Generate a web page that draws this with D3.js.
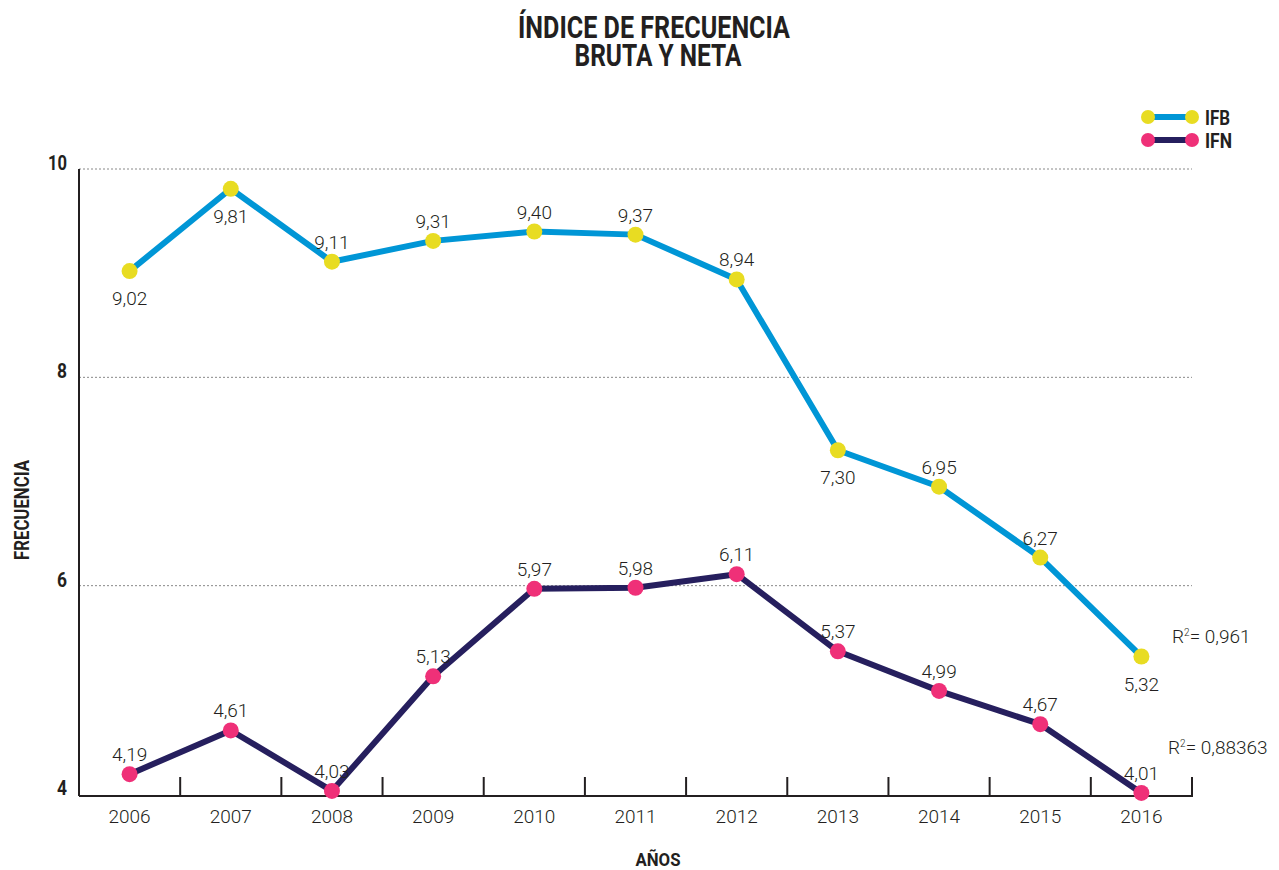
<!DOCTYPE html>
<html>
<head>
<meta charset="utf-8">
<script src="https://cdn.jsdelivr.net/npm/d3@7"></script>
<style>
  body { margin: 0; background: #fff; }
  svg text { font-family: Roboto, "Liberation Sans", sans-serif; font-weight: 300; }
  svg text.bold { font-weight: bold; }
</style>
</head>
<body>
<svg id="chart" width="1279" height="870"></svg>
<script>
const years = ["2006", "2007", "2008", "2009", "2010", "2011", "2012", "2013", "2014", "2015", "2016"];
const ifb = [9.02, 9.81, 9.11, 9.31, 9.40, 9.37, 8.94, 7.30, 6.95, 6.27, 5.32];
const ifn = [4.19, 4.61, 4.03, 5.13, 5.97, 5.98, 6.11, 5.37, 4.99, 4.67, 4.01];
// label below (true) or above the point
const ifbBelow = [true, true, false, false, false, false, false, true, false, false, true];
const yTicks = [4, 6, 8, 10];
const r2 = ["0,961", "0,88363"];

const svg = d3.select("#chart");
const plotLeft = 79, plotRight = 1192, plotTop = 169, plotBottom = 796;
const ink = "#231f20";

const x = d3.scaleBand().domain(years).range([plotLeft, plotRight]);
const y = d3.scaleLinear().domain([4, 10]).range([plotBottom - 2, plotTop]);

const fmt = (v) => v.toFixed(2).replace(".", ",");

// bold condensed text helper
const boldText = (px, py, txt, size, len, anchor) =>
  svg.append("text").attr("class", "bold").attr("x", px).attr("y", py)
    .attr("text-anchor", anchor || "start")
    .attr("textLength", len).attr("lengthAdjust", "spacingAndGlyphs")
    .style("font-size", size + "px").attr("fill", ink).text(txt);

// title
boldText(654, 38, "ÍNDICE DE FRECUENCIA", 31, 272, "middle");
boldText(658, 66, "BRUTA Y NETA", 31, 167, "middle");

// grid
svg.append("g").selectAll("line").data(yTicks.filter((d) => d > 4)).enter().append("line")
  .attr("x1", plotLeft).attr("x2", plotRight)
  .attr("y1", (d) => y(d)).attr("y2", (d) => y(d))
  .attr("stroke", "#888").attr("stroke-width", 1).attr("stroke-dasharray", "2,2");

// y labels
yTicks.forEach((d) => {
  boldText(67, y(d) + 1, String(d), 21, d >= 10 ? 19 : 10, "end");
});

// axes
svg.append("line").attr("x1", plotLeft).attr("x2", plotLeft).attr("y1", plotTop).attr("y2", plotBottom)
  .attr("stroke", ink).attr("stroke-width", 2);
svg.append("line").attr("x1", plotLeft).attr("x2", plotRight + 1).attr("y1", plotBottom).attr("y2", plotBottom)
  .attr("stroke", ink).attr("stroke-width", 2);
const dividers = years.slice(1).map((d) => x(d)).concat([plotRight]);
svg.append("g").selectAll("line").data(dividers).enter().append("line")
  .attr("x1", (d) => d).attr("x2", (d) => d)
  .attr("y1", plotBottom - 19).attr("y2", plotBottom)
  .attr("stroke", ink).attr("stroke-width", 2);

// x labels
svg.append("g").selectAll("text").data(years).enter().append("text")
  .attr("x", (d) => x(d) + x.bandwidth() / 2).attr("y", 823)
  .attr("text-anchor", "middle").style("font-size", "19px").attr("fill", ink)
  .text((d) => d);

// axis titles
boldText(658, 866, "AÑOS", 19, 45, "middle");
boldText(0, 0, "FRECUENCIA", 20, 100, "middle").attr("x", null).attr("y", null)
  .attr("transform", "translate(29,510) rotate(-90)");

const cx = (i) => x(years[i]) + x.bandwidth() / 2;
const line = d3.line().x((d, i) => cx(i)).y((d) => y(d));

const series = [
  { values: ifb, line: "#0096d6", dot: "#e8dc22", below: ifbBelow },
  { values: ifn, line: "#261f5e", dot: "#ef3078", below: ifn.map(() => false) },
];

series.forEach((s) => {
  svg.append("path").datum(s.values).attr("d", line)
    .attr("fill", "none").attr("stroke", s.line).attr("stroke-width", 6)
    .attr("stroke-linejoin", "round");
  svg.append("g").selectAll("circle").data(s.values).enter().append("circle")
    .attr("cx", (d, i) => cx(i)).attr("cy", (d) => y(d)).attr("r", 8)
    .attr("fill", s.dot);
  svg.append("g").selectAll("text").data(s.values).enter().append("text")
    .attr("x", (d, i) => cx(i))
    .attr("y", (d, i) => (s.below[i] ? y(d) + 34 : y(d) - 13))
    .attr("text-anchor", "middle").style("font-size", "19px").attr("fill", ink)
    .text((d) => fmt(d));
});

// R² labels
const r2Pos = [{ x: 1172, y: 643 }, { x: 1168, y: 754 }];
r2.forEach((v, i) => {
  const t = svg.append("text").attr("x", r2Pos[i].x).attr("y", r2Pos[i].y)
    .style("font-size", "19px").attr("fill", ink);
  t.append("tspan").text("R");
  t.append("tspan").attr("dy", -7).style("font-size", "10px").text("2");
  t.append("tspan").attr("dy", 7).text("= " + v);
});

// legend
const legend = [{ name: "IFB", s: series[0], y: 117, w: 25 }, { name: "IFN", s: series[1], y: 140, w: 27 }];
legend.forEach((l) => {
  svg.append("line").attr("x1", 1148).attr("x2", 1192).attr("y1", l.y).attr("y2", l.y)
    .attr("stroke", l.s.line).attr("stroke-width", 6);
  [1148, 1192].forEach((px) => {
    svg.append("circle").attr("cx", px).attr("cy", l.y).attr("r", 7).attr("fill", l.s.dot);
  });
  boldText(1205, l.y + 8, l.name, 21, l.w);
});
</script>
</body>
</html>
